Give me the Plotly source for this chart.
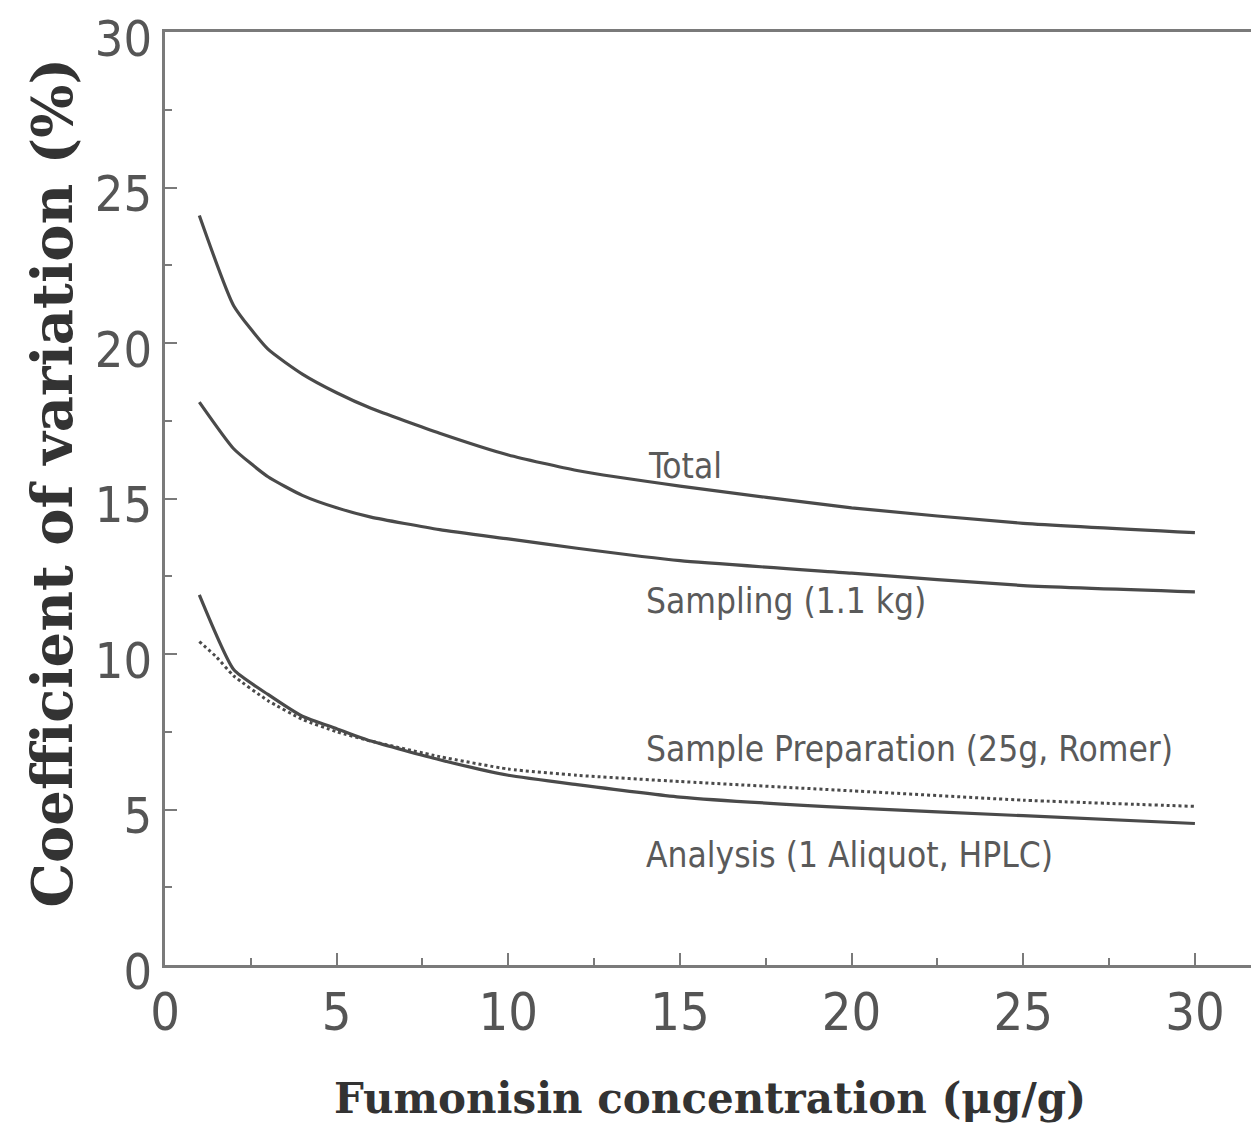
import plotly.graph_objects as go

# ---- data ----
x_conc = [1, 2, 3, 4, 5, 6, 8, 10, 12, 15, 20, 25, 30]
cv_total = [24.1, 21.2, 19.8, 19.0, 18.4, 17.9, 17.1, 16.4, 15.9, 15.4, 14.7, 14.2, 13.9]
cv_sampling = [18.1, 16.6, 15.7, 15.1, 14.7, 14.4, 14.0, 13.7, 13.4, 13.0, 12.6, 12.2, 12.0]
cv_analysis = [11.9, 9.5, 8.7, 8.0, 7.6, 7.2, 6.6, 6.1, 5.8, 5.4, 5.05, 4.8, 4.55]
x_prep = [1, 1.5, 2, 3, 4, 5, 6, 8, 10, 12, 15, 20, 25, 30]
cv_prep = [10.4, 9.9, 9.3, 8.5, 7.9, 7.5, 7.2, 6.7, 6.3, 6.1, 5.9, 5.6, 5.3, 5.1]

label_texts = ["Total", "Sampling (1.1 kg)", "Sample Preparation (25g, Romer)", "Analysis (1 Aliquot, HPLC)"]
label_x = [14.0, 13.95, 13.95, 13.95]
label_y = [16.05, 11.7, 6.95, 3.55]

x_ticks = [0, 5, 10, 15, 20, 25, 30]
y_ticks = [0, 5, 10, 15, 20, 25, 30]

x_title = "<b>Fumonisin concentration (μg/g)</b>"
y_title = "<b>Coefficient of variation (%)</b>"

LINE = "#4a4a4a"
AXIS = "#7a7a7a"
NARROW = "DejaVu Sans Condensed, Liberation Sans Narrow, Arial Narrow, Liberation Sans, sans-serif"
SERIF = "DejaVu Serif, serif"

fig = go.Figure()
fig.add_trace(go.Scatter(x=x_conc, y=cv_total, mode="lines", name="Total",
                         line=dict(color=LINE, width=3.2, shape="spline", smoothing=0.5)))
fig.add_trace(go.Scatter(x=x_conc, y=cv_sampling, mode="lines", name="Sampling",
                         line=dict(color=LINE, width=3.2, shape="spline", smoothing=0.5)))
fig.add_trace(go.Scatter(x=x_prep, y=cv_prep, mode="lines", name="Sample Preparation",
                         line=dict(color=LINE, width=3, dash="dot", shape="spline", smoothing=0.5)))
fig.add_trace(go.Scatter(x=x_conc, y=cv_analysis, mode="lines", name="Analysis",
                         line=dict(color=LINE, width=3.2, shape="spline", smoothing=0.5)))

for t, lx, ly in zip(label_texts, label_x, label_y):
    fig.add_annotation(x=lx, y=ly, text=t, showarrow=False, xanchor="left", yanchor="middle",
                       font=dict(family=NARROW, size=35, color="#5a5a5a"))

# y-axis title as a rotated annotation (placed slightly above the plot centre, as in the reference)
fig.add_annotation(xref="paper", yref="paper", x=-0.1037, y=0.517, text=y_title, textangle=-90,
                   showarrow=False, xanchor="center", yanchor="middle",
                   font=dict(family=SERIF, size=56, color="#333333"))

fig.update_xaxes(range=[0, 31.75], tickvals=x_ticks, ticks="inside", ticklen=12, tickwidth=2,
                 tickcolor=AXIS, showline=True, linecolor=AXIS, linewidth=3, mirror=True,
                 showgrid=False, zeroline=False, automargin=False, ticklabeloverflow="allow",
                 minor=dict(dtick=2.5, ticks="inside", ticklen=7, tickwidth=2, tickcolor=AXIS),
                 tickfont=dict(family=NARROW, size=52, color="#555555"),
                 title=dict(text=x_title,
                            font=dict(family=SERIF, size=42, color="#333333"), standoff=43))
fig.update_yaxes(range=[0, 30], tickvals=y_ticks, ticks="inside", ticklen=12, tickwidth=2,
                 tickcolor=AXIS, showline=True, linecolor=AXIS, linewidth=3, mirror=False,
                 showgrid=False, zeroline=False, automargin=False, ticklabeloverflow="allow",
                 ticklabelshift=6,
                 minor=dict(dtick=2.5, ticks="inside", ticklen=7, tickwidth=2, tickcolor=AXIS),
                 tickfont=dict(family=NARROW, size=50, color="#555555"))

fig.update_layout(width=1251, height=1123, margin=dict(l=157, r=4, t=24, b=166),
                  plot_bgcolor="white", paper_bgcolor="white", showlegend=False)

fig.write_html("out.html")
